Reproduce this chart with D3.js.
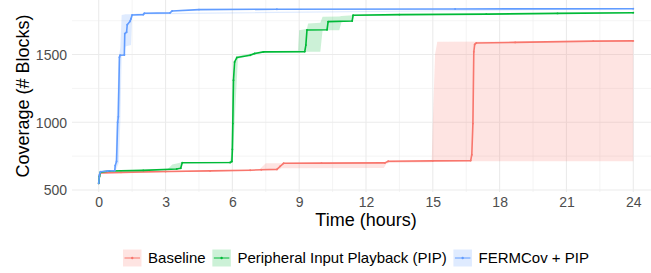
<!DOCTYPE html>
<html><head><meta charset="utf-8">
<script src="https://cdn.jsdelivr.net/npm/d3@7"></script>
<style>
html,body{margin:0;padding:0;background:#fff;}
text{font-family:"Liberation Sans",Arial,Helvetica,sans-serif;}
</style></head>
<body>
<svg id="chart" width="651" height="273"></svg>
<script>
// ---------- data ----------
const seriesNames = ["Baseline", "Peripheral Input Playback (PIP)", "FERMCov + PIP"];
const seriesColors = ["#F8766D", "#00BA38", "#619CFF"];
const xTicks = [0, 3, 6, 9, 12, 15, 18, 21, 24];
const yTicks = [500, 1000, 1500];

// Baseline mean line
const baseT = [0, 0.03, 0.08, 1, 3, 5, 6.8, 7.3, 8.0, 8.15, 8.3, 10, 12.85, 13.0, 15, 16.7, 16.75, 16.8, 16.84, 16.88, 16.95, 18.7, 22.2, 24];
const baseV = [550, 600, 625, 630, 636, 641, 646, 649, 652, 675, 697, 698, 700, 712, 715, 717, 760, 990, 1520, 1575, 1585, 1590, 1599, 1601];
// Baseline ribbon
const baseRT = [0, 0.08, 7.2, 7.5, 8.1, 8.2, 8.3, 12.8, 12.9, 13.0, 14.95, 15.0, 15.1, 15.2, 24];
const baseLo = [550, 620, 645, 648, 652, 660, 660, 662, 690, 700, 705, 712, 713, 713, 713];
const baseHi = [555, 630, 650, 697, 698, 698, 700, 702, 710, 712, 716, 1000, 1500, 1595, 1601];

// PIP mean line
const pipT = [0, 0.03, 0.08, 0.5, 2, 3.5, 3.68, 3.75, 5.9, 5.98, 6.0, 6.02, 6.05, 6.1, 6.2, 6.8, 7.0, 7.4, 9.25, 9.3, 9.35, 10.25, 10.3, 11.38, 11.42, 13.5, 17.4, 20.6, 24];
const pipV = [550, 600, 632, 640, 645, 655, 660, 701, 703, 710, 800, 990, 1310, 1445, 1478, 1495, 1508, 1520, 1522, 1570, 1681, 1683, 1743, 1748, 1790, 1795, 1799, 1804, 1809];
// PIP ribbon
const pipRT = [0, 0.08, 3.1, 3.3, 3.7, 3.75, 5.9, 5.95, 6.02, 6.1, 6.25, 7.4, 8.95, 9.0, 9.35, 9.4, 9.95, 10.05, 10.8, 10.9, 11.4, 11.45, 20.2, 20.5, 24];
const pipLo = [550, 630, 650, 652, 658, 700, 700, 700, 720, 1000, 1470, 1515, 1518, 1520, 1520, 1520, 1520, 1680, 1680, 1740, 1745, 1785, 1800, 1802, 1806];
const pipHi = [555, 640, 655, 688, 702, 705, 710, 760, 1300, 1460, 1490, 1525, 1530, 1680, 1690, 1730, 1735, 1780, 1782, 1785, 1790, 1795, 1803, 1808, 1812];

// FERMCov + PIP mean line
const fermT = [0, 0.03, 0.08, 0.4, 0.72, 0.74, 0.8, 0.85, 0.88, 0.93, 0.96, 1.15, 1.17, 1.25, 1.28, 1.4, 1.45, 1.5, 2.0, 2.05, 3.2, 3.3, 4.5, 8, 16, 24];
const fermV = [550, 610, 635, 640, 643, 680, 710, 1000, 1040, 1480, 1495, 1497, 1655, 1665, 1720, 1745, 1765, 1792, 1795, 1805, 1808, 1822, 1832, 1835, 1837, 1838];
// FERMCov + PIP ribbon
const fermRT = [0, 0.08, 0.7, 0.75, 0.8, 0.9, 0.97, 1.03, 1.15, 1.2, 1.45, 1.5, 2.0, 24];
const fermLo = [550, 630, 640, 640, 660, 700, 1000, 1490, 1495, 1560, 1570, 1790, 1795, 1836];
const fermHi = [555, 640, 645, 700, 1000, 1480, 1550, 1792, 1795, 1797, 1798, 1800, 1806, 1840];

// ---------- build ----------
const lines = [
  {T: baseT, V: baseV, RT: baseRT, lo: baseLo, hi: baseHi},
  {T: pipT, V: pipV, RT: pipRT, lo: pipLo, hi: pipHi},
  {T: fermT, V: fermV, RT: fermRT, lo: fermLo, hi: fermHi}
].map((s, i) => ({
  name: seriesNames[i], color: seriesColors[i],
  pts: s.T.map((t, j) => ({t, v: s.V[j]})),
  rib: s.RT.map((t, j) => ({t, lo: s.lo[j], hi: s.hi[j]}))
}));

const svg = d3.select("#chart");
const panel = {left: 72, right: 660, top: 0, bottom: 192};

const x = d3.scaleLinear().domain([-1.2, 25.2]).range([panel.left, panel.right]);
const y = d3.scaleLinear().domain([485, 1903]).range([panel.bottom, panel.top]);

const g = svg.append("g");
// minor grid
const xMinor = d3.range(-1.5, 25.5, 3).filter(v => v > -1.2 && v < 25.2);
const yMinor = [750, 1250, 1750];
g.selectAll(".xminor").data(xMinor).join("line")
  .attr("x1", d => x(d)).attr("x2", d => x(d)).attr("y1", panel.top).attr("y2", panel.bottom)
  .attr("stroke", "#EBEBEB").attr("stroke-width", 0.55);
g.selectAll(".yminor").data(yMinor).join("line")
  .attr("x1", panel.left).attr("x2", panel.right).attr("y1", d => y(d)).attr("y2", d => y(d))
  .attr("stroke", "#EBEBEB").attr("stroke-width", 0.55);
// major grid
g.selectAll(".xmajor").data(xTicks).join("line")
  .attr("x1", d => x(d)).attr("x2", d => x(d)).attr("y1", panel.top).attr("y2", panel.bottom)
  .attr("stroke", "#EBEBEB").attr("stroke-width", 1.1);
g.selectAll(".ymajor").data(yTicks).join("line")
  .attr("x1", panel.left).attr("x2", panel.right).attr("y1", d => y(d)).attr("y2", d => y(d))
  .attr("stroke", "#EBEBEB").attr("stroke-width", 1.1);

// axes tick labels via d3 axes
const xAxis = d3.axisBottom(x).tickValues(xTicks).tickSize(0).tickPadding(0).tickFormat(d3.format("d"));
const gx = svg.append("g").attr("transform", `translate(0,${panel.bottom})`).call(xAxis);
gx.select(".domain").remove();
gx.selectAll("text").attr("font-size", 14).attr("fill", "#4D4D4D").attr("dy", null).attr("y", 15)
  .attr("font-family", "Liberation Sans, Arial, sans-serif");

const yAxis = d3.axisLeft(y).tickValues(yTicks).tickSize(0).tickPadding(0).tickFormat(d3.format("d"));
const gy = svg.append("g").attr("transform", `translate(67,0)`).call(yAxis);
gy.select(".domain").remove();
gy.selectAll("text").attr("font-size", 14).attr("fill", "#4D4D4D").attr("dy", "0.35em").attr("x", 0)
  .attr("font-family", "Liberation Sans, Arial, sans-serif");

// ribbons
const area = d3.area().x(d => x(d.t)).y0(d => y(d.lo)).y1(d => y(d.hi));
const lineGen = d3.line().x(d => x(d.t)).y(d => y(d.v));
svg.append("clipPath").attr("id", "clip").append("rect")
  .attr("x", panel.left).attr("y", panel.top).attr("width", panel.right - panel.left).attr("height", panel.bottom - panel.top);
const pg = svg.append("g").attr("clip-path", "url(#clip)");
lines.forEach(s => {
  pg.append("path").datum(s.rib).attr("d", area).attr("fill", s.color).attr("fill-opacity", 0.2).attr("stroke", "none");
});
lines.forEach(s => {
  pg.append("path").datum(s.pts).attr("d", lineGen).attr("fill", "none").attr("stroke", s.color)
    .attr("stroke-width", 1.6).attr("stroke-linejoin", "round");
  pg.selectAll(null).data(s.pts).join("circle").attr("cx", d => x(d.t)).attr("cy", d => y(d.v))
    .attr("r", 0.95).attr("fill", s.color);
});

// axis titles
svg.append("text").attr("x", (panel.left + panel.right) / 2).attr("y", 226).attr("text-anchor", "middle")
  .attr("font-size", 18).attr("fill", "#000").text("Time (hours)");
svg.append("text").attr("transform", `translate(28.5,${(panel.top + panel.bottom) / 2}) rotate(-90)`)
  .attr("text-anchor", "middle").attr("font-size", 18).attr("fill", "#000").text("Coverage (# Blocks)");

// legend
const leg = svg.append("g");
let lx = 123;
const keyW = 18.5, keyH = 17, ly = 258;
lines.forEach((s, i) => {
  const k = leg.append("g");
  k.append("rect").attr("x", lx).attr("y", ly - keyH / 2).attr("width", keyW).attr("height", keyH)
    .attr("fill", s.color).attr("fill-opacity", 0.2);
  k.append("line").attr("x1", lx + 1.5).attr("x2", lx + keyW - 1.5).attr("y1", ly).attr("y2", ly)
    .attr("stroke", s.color).attr("stroke-width", 1);
  k.append("circle").attr("cx", lx + keyW / 2).attr("cy", ly).attr("r", 1.2).attr("fill", s.color);
  const t = leg.append("text").attr("x", lx + keyW + 6.6).attr("y", ly + 5.2).attr("font-size", 15)
    .attr("fill", "#000").text(s.name);
  lx = lx + keyW + 6.6 + t.node().getComputedTextLength() + 6.7;
});
</script>
</body></html>
